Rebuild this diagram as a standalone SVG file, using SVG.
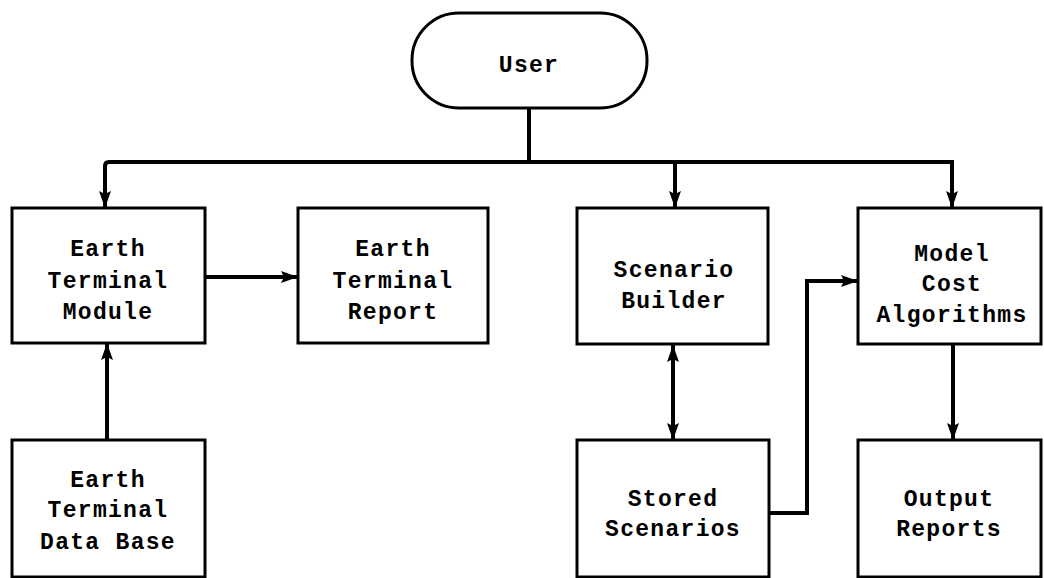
<svg xmlns="http://www.w3.org/2000/svg" width="1044" height="578" viewBox="0 0 1044 578">
  <style>
    .box { fill: #ffffff; stroke: #000000; stroke-width: 3; }
    .lbl { font-family: "Liberation Mono", "Courier New", monospace; font-weight: bold; font-size: 23px; letter-spacing: 1.3px; fill: #000000; text-anchor: middle; dominant-baseline: central; }
    .con { fill: none; stroke: #000000; stroke-width: 4; }
  </style>
  <defs>
    <marker id="ah" markerUnits="userSpaceOnUse" markerWidth="17" markerHeight="12" refX="17" refY="6" orient="auto-start-reverse">
      <path d="M0,0 L17,6 L0,12 L3,6 z" fill="#000000"/>
    </marker>
  </defs>
  <rect x="0" y="0" width="1044" height="578" fill="#ffffff"/>

  <g id="connectors">
    <line class="con" x1="529" y1="108" x2="529" y2="162"/>
    <path class="con" d="M953,162 L109,162 Q105,162 105,166 L105,208" marker-end="url(#ah)"/>
    <line class="con" x1="675" y1="162" x2="675" y2="208" marker-end="url(#ah)"/>
    <line class="con" x1="952" y1="160" x2="952" y2="208" marker-end="url(#ah)"/>
    <line class="con" x1="205" y1="277" x2="298" y2="277" marker-end="url(#ah)"/>
    <line class="con" x1="107" y1="440" x2="107" y2="343" marker-end="url(#ah)"/>
    <line class="con" x1="673" y1="345" x2="673" y2="440" marker-start="url(#ah)" marker-end="url(#ah)"/>
    <path class="con" d="M769,513 L807,513 L807,281 L858,281" marker-end="url(#ah)"/>
    <line class="con" x1="953" y1="344" x2="953" y2="440" marker-end="url(#ah)"/>
  </g>

  <g id="user">
    <rect class="box" x="412" y="13" width="235" height="95" rx="47" ry="47"/>
    <text class="lbl" x="529" y="66">User</text>
  </g>
  <g id="earth-terminal-module">
    <rect class="box" x="12" y="208" width="193" height="135"/>
    <text class="lbl" x="108" y="250">Earth</text>
    <text class="lbl" x="108" y="282">Terminal</text>
    <text class="lbl" x="108" y="313">Module</text>
  </g>
  <g id="earth-terminal-report">
    <rect class="box" x="298" y="208" width="190" height="135"/>
    <text class="lbl" x="393" y="250">Earth</text>
    <text class="lbl" x="393" y="282">Terminal</text>
    <text class="lbl" x="393" y="313">Report</text>
  </g>
  <g id="scenario-builder">
    <rect class="box" x="577" y="208" width="191" height="136"/>
    <text class="lbl" x="674" y="271">Scenario</text>
    <text class="lbl" x="674" y="302">Builder</text>
  </g>
  <g id="model-cost-algorithms">
    <rect class="box" x="858" y="208" width="183" height="136"/>
    <text class="lbl" x="952" y="255">Model</text>
    <text class="lbl" x="952" y="285">Cost</text>
    <text class="lbl" x="952" y="316">Algorithms</text>
  </g>
  <g id="earth-terminal-data-base">
    <rect class="box" x="12" y="440" width="193" height="137"/>
    <text class="lbl" x="108" y="481">Earth</text>
    <text class="lbl" x="108" y="511">Terminal</text>
    <text class="lbl" x="108" y="543">Data Base</text>
  </g>
  <g id="stored-scenarios">
    <rect class="box" x="577" y="440" width="192" height="137"/>
    <text class="lbl" x="673" y="500">Stored</text>
    <text class="lbl" x="673" y="530">Scenarios</text>
  </g>
  <g id="output-reports">
    <rect class="box" x="858" y="440" width="183" height="137"/>
    <text class="lbl" x="949" y="500">Output</text>
    <text class="lbl" x="949" y="530">Reports</text>
  </g>
</svg>
